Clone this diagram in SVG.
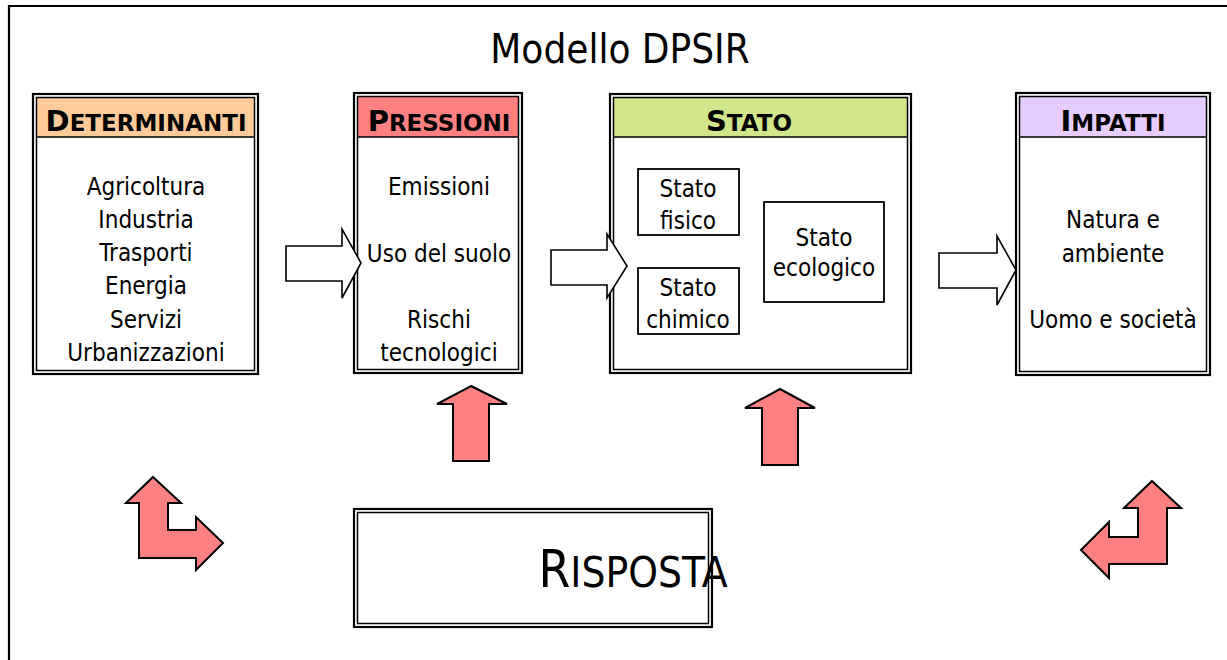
<svg xmlns="http://www.w3.org/2000/svg" width="1227" height="660" viewBox="0 0 1227 660">
<style>
.o{fill:none;stroke:#000;stroke-width:2.2}
.i{fill:none;stroke:#000;stroke-width:1.5}
.bg{fill:#fff}
.sb{fill:#fff;stroke:#000;stroke-width:1.8}
.t{font-family:"DejaVu Sans Condensed","DejaVu Sans",sans-serif;fill:#000;text-anchor:middle}
.b{font-size:24px}
.h{font-family:"DejaVu Sans",sans-serif;font-weight:bold}
.wa{fill:#fff;stroke:#000;stroke-width:1.6;stroke-linejoin:miter}
.ra{fill:#FF8080;stroke:#000;stroke-width:2;stroke-linejoin:miter}
</style>
<rect width="1227" height="660" fill="#fff"/>
<path d="M9,660 V6 H1227" fill="none" stroke="#000" stroke-width="2.2"/>
<text class="t" x="620" y="63" font-size="40">Modello DPSIR</text>

<g id="determinanti">
<rect class="bg" x="33" y="94" width="225" height="280"/>
<rect x="37" y="97" width="217" height="40" fill="#FFCC99"/>
<line x1="37" y1="137" x2="254" y2="137" stroke="#000" stroke-width="1.5"/>
<rect class="o" x="33" y="94" width="225" height="280"/>
<rect class="i" x="36.5" y="97.5" width="218" height="273"/>
<text class="t h" x="146" y="131"><tspan font-size="29">D</tspan><tspan font-size="23">ETERMINANTI</tspan></text>
<text class="t b" x="146" y="195">Agricoltura</text>
<text class="t b" x="146" y="228">Industria</text>
<text class="t b" x="146" y="261">Trasporti</text>
<text class="t b" x="146" y="294">Energia</text>
<text class="t b" x="146" y="328">Servizi</text>
<text class="t b" x="146" y="361">Urbanizzazioni</text>
</g>

<g id="pressioni">
<rect class="bg" x="354" y="93" width="168" height="280"/>
<rect x="358" y="97" width="160" height="40" fill="#FF8080"/>
<line x1="358" y1="137" x2="518" y2="137" stroke="#000" stroke-width="1.5"/>
<rect class="o" x="354" y="93" width="168" height="280"/>
<rect class="i" x="357.5" y="96.5" width="161" height="273"/>
<text class="t h" x="439" y="131"><tspan font-size="29">P</tspan><tspan font-size="23">RESSIONI</tspan></text>
<text class="t b" x="439" y="195">Emissioni</text>
<text class="t b" x="439" y="262">Uso del suolo</text>
<text class="t b" x="439" y="328">Rischi</text>
<text class="t b" x="439" y="361">tecnologici</text>
</g>

<g id="stato">
<rect class="bg" x="610" y="94" width="301" height="279"/>
<rect x="614" y="97" width="293" height="40" fill="#D1E68A"/>
<line x1="614" y1="137" x2="907" y2="137" stroke="#000" stroke-width="1.5"/>
<rect class="o" x="610" y="94" width="301" height="279"/>
<rect class="i" x="613.5" y="97.5" width="294" height="272"/>
<text class="t h" x="749" y="131"><tspan font-size="29">S</tspan><tspan font-size="23">TATO</tspan></text>
<g id="stato-fisico">
<rect class="sb" x="638" y="169" width="101" height="66"/>
<text class="t b" x="688" y="197">Stato</text>
<text class="t b" x="688" y="229">fisico</text>
</g>
<g id="stato-chimico">
<rect class="sb" x="638" y="268" width="101" height="66"/>
<text class="t b" x="688" y="296">Stato</text>
<text class="t b" x="688" y="328">chimico</text>
</g>
<g id="stato-ecologico">
<rect class="sb" x="764" y="202" width="120" height="100"/>
<text class="t b" x="824" y="246">Stato</text>
<text class="t b" x="824" y="276">ecologico</text>
</g>
</g>

<g id="impatti">
<rect class="bg" x="1016" y="93" width="194" height="282"/>
<rect x="1020" y="97" width="186" height="40" fill="#E6CCFF"/>
<line x1="1020" y1="137" x2="1206" y2="137" stroke="#000" stroke-width="1.5"/>
<rect class="o" x="1016" y="93" width="194" height="282"/>
<rect class="i" x="1019.5" y="96.5" width="187" height="275"/>
<text class="t h" x="1113" y="131"><tspan font-size="29">I</tspan><tspan font-size="23">MPATTI</tspan></text>
<text class="t b" x="1113" y="228">Natura e</text>
<text class="t b" x="1113" y="262">ambiente</text>
<text class="t b" x="1113" y="328">Uomo e società</text>
</g>

<g id="risposta">
<rect class="bg" x="354" y="509" width="358" height="118"/>
<rect class="o" x="354" y="509" width="358" height="118"/>
<rect class="i" x="357.5" y="512.5" width="351" height="111"/>
<text class="t" x="633" y="587"><tspan font-size="51">R</tspan><tspan font-size="42">ISPOSTA</tspan></text>
</g>

<g id="connectors">
<polygon class="wa" points="286,246 342,246 342,229 361,263 342,298 342,281 286,281"/>
<polygon class="wa" points="551,250 607,250 607,234 627,266 607,298 607,285 551,285"/>
<polygon class="wa" points="939,253 997,253 997,236 1016,270 997,305 997,288 939,288"/>
<polygon class="ra" points="471,386 507,404 489,404 489,461 453,461 453,404 437,404"/>
<polygon class="ra" points="780,389 815,408 798,408 798,465 762,465 762,408 745,408"/>
<polygon class="ra" points="153,477 181,503 168,503 168,530 196,530 196,517 223,543 196,570 196,558 139,558 139,503 126,503"/>
<polygon class="ra" points="1152,481 1181,508 1167,508 1167,564 1109,564 1109,578 1081,550 1109,522 1109,537 1138,537 1138,508 1124,508"/>
</g>
</svg>
